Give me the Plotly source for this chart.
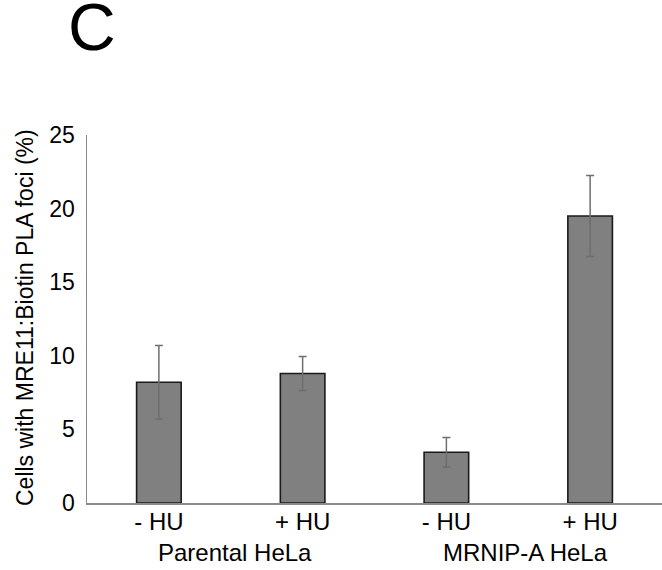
import plotly.graph_objects as go

conditions = ["- HU", "+ HU", "- HU", "+ HU"]
cell_lines = ["Parental HeLa", "MRNIP-A HeLa"]
values = [8.2, 8.8, 3.45, 19.5]
errors = [2.5, 1.15, 1.0, 2.75]
y_ticks = [0, 5, 10, 15, 20, 25]

FONT = "Arial, Liberation Sans, sans-serif"
x_pos = list(range(len(values)))

fig = go.Figure()
fig.add_trace(go.Bar(
    x=x_pos, y=values, width=0.31,
    marker=dict(color="#808080", line=dict(color="#1a1a1a", width=1.6)),
    error_y=dict(type="data", array=errors, visible=True, color="#6e6e6e",
                 thickness=1.5, width=4),
    showlegend=False,
))

W, H = 662, 570
ml, mr, mt, mb = 87, 0, 135, 67
pw, ph = W - ml - mr, H - mt - mb

def px_x(px):
    return (px - ml) / pw

def px_y(py):
    return (H - mb - py) / ph

fig.update_layout(
    width=W, height=H,
    margin=dict(l=ml, r=mr, t=mt, b=mb, pad=0),
    plot_bgcolor="white", paper_bgcolor="white",
    font=dict(family=FONT, size=23, color="#000000"),
    bargap=0,
    xaxis=dict(range=[-0.5, 3.5], tickvals=x_pos, ticktext=conditions,
               showgrid=False, zeroline=False, showline=True,
               linecolor="#8a8a8a", linewidth=1.5, ticks="",
               ticklabelstandoff=-3,
               tickfont=dict(size=24, family=FONT, color="#000")),
    yaxis=dict(range=[0, 25], tickvals=y_ticks, showgrid=False,
               zeroline=False, showline=True, linecolor="#8a8a8a",
               linewidth=1.5, ticks="outside", ticklen=6, tickcolor="rgba(0,0,0,0)",
               tickfont=dict(size=23, family=FONT, color="#000")),
)

annotations = [
    dict(text="C", x=px_x(66), y=px_y(27), xref="paper", yref="paper",
         xanchor="left", yanchor="middle", showarrow=False,
         font=dict(size=66, family=FONT, color="#000")),
    dict(text="Cells with MRE11:Biotin PLA foci (%)", x=px_x(25), y=px_y(318),
         xref="paper", yref="paper", xanchor="center", yanchor="middle",
         textangle=-90, showarrow=False,
         font=dict(size=23, family=FONT, color="#000")),
    dict(text=cell_lines[0], x=0.53, y=px_y(552), xref="x", yref="paper",
         xanchor="center", yanchor="middle", showarrow=False,
         font=dict(size=24, family=FONT, color="#000")),
    dict(text=cell_lines[1], x=2.55, y=px_y(552), xref="x", yref="paper",
         xanchor="center", yanchor="middle", showarrow=False,
         font=dict(size=24, family=FONT, color="#000")),
]
fig.update_layout(annotations=annotations)

fig.write_html(
    "out.html",
    config={"displayModeBar": False, "staticPlot": True},
    post_script="document.body.style.margin='0';document.body.style.overflow='hidden';",
)
